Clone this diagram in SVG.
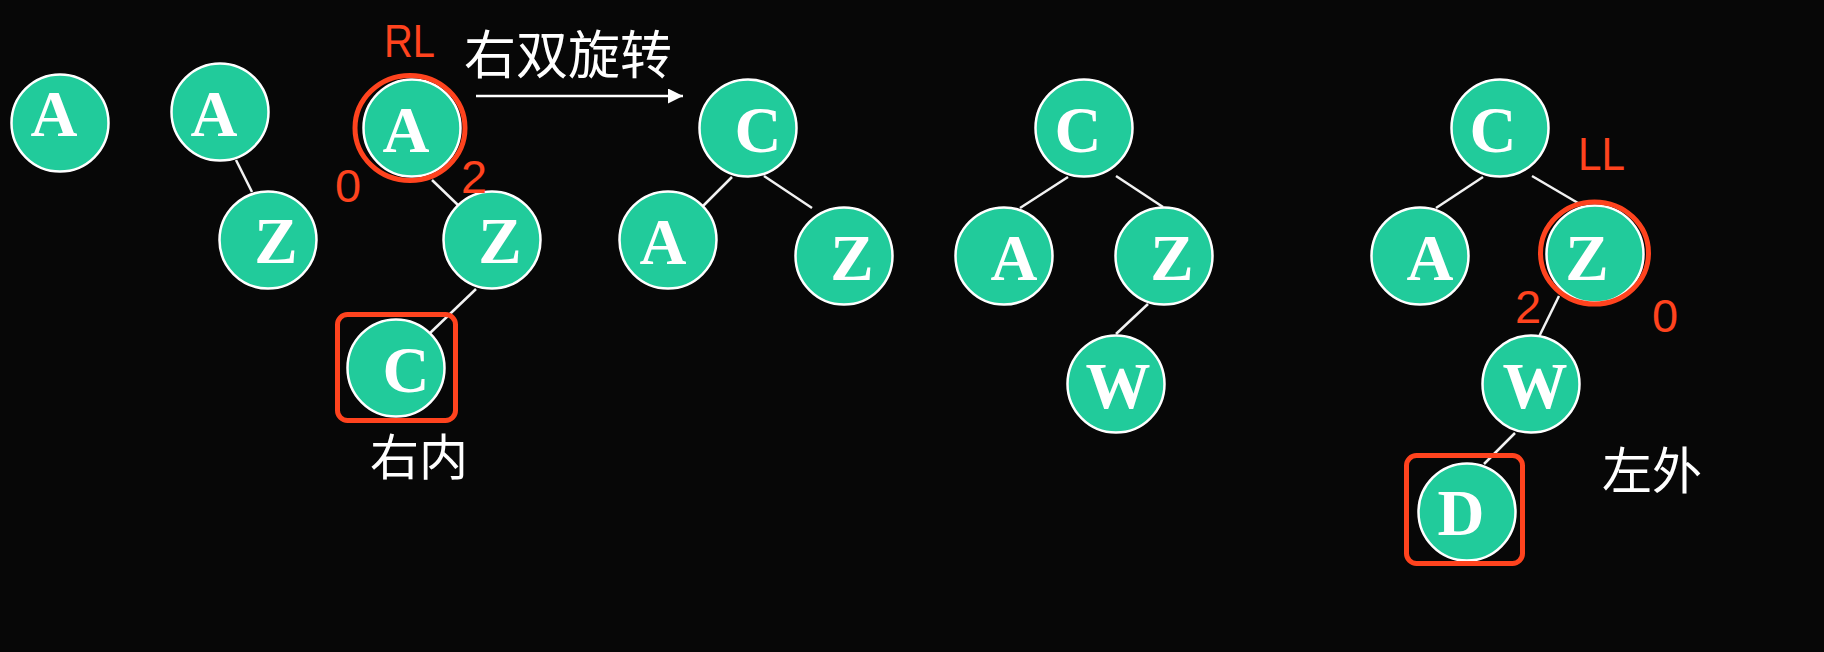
<svg xmlns="http://www.w3.org/2000/svg" width="1824" height="652" viewBox="0 0 1824 652">
<defs>
<style>
.bg{fill:#070707}
.node circle{fill:#21CB9B;stroke:#FFFFFF;stroke-width:2.5}
.node text{font-family:"Liberation Serif","Times New Roman",serif;font-weight:bold;font-size:65px;fill:#FFFFFF;text-anchor:middle}
.edge{stroke:#F2F2F2;stroke-width:2.5;fill:none}
.hl{fill:none;stroke:#FF431E;stroke-width:5}
.red{font-family:"Liberation Sans",Arial,sans-serif;font-size:47px;fill:#FF431E}
.cjk{font-family:"Noto Sans CJK SC",sans-serif;font-weight:400;fill:#FFFFFF}
</style>
<marker id="ah" viewBox="0 0 10 10" refX="10" refY="5" markerWidth="15" markerHeight="15" markerUnits="userSpaceOnUse" orient="auto">
<path d="M0,0 L10,5 L0,10 Z" fill="#FFFFFF"/>
</marker>
</defs>
<rect class="bg" x="0" y="0" width="1824" height="652"/>

<g id="connectors">
<line class="edge" x1="236" y1="160" x2="252" y2="192"/>
<line class="edge" x1="432" y1="180" x2="459" y2="206"/>
<line class="edge" x1="476" y1="289" x2="429" y2="334"/>
<line class="edge" x1="732" y1="177" x2="703" y2="206"/>
<line class="edge" x1="764" y1="176" x2="812" y2="208"/>
<line class="edge" x1="1068" y1="177" x2="1020" y2="208"/>
<line class="edge" x1="1116" y1="176" x2="1163" y2="207"/>
<line class="edge" x1="1148" y1="304" x2="1116" y2="334"/>
<line class="edge" x1="1483" y1="177" x2="1436" y2="208"/>
<line class="edge" x1="1532" y1="176" x2="1578" y2="203"/>
<line class="edge" x1="1559" y1="296" x2="1532" y2="351"/>
<line class="edge" x1="1515" y1="433" x2="1484" y2="464"/>
<line x1="476" y1="96" x2="683" y2="96" stroke="#FFFFFF" stroke-width="2.5" marker-end="url(#ah)"/>
</g>

<g id="tree1">
<g id="n-a1" class="node"><circle cx="60" cy="123" r="48.5"/><text x="54" y="136">A</text></g>
</g>
<g id="tree2">
<g id="n-a2" class="node"><circle cx="220" cy="112" r="48.5"/><text x="214" y="136">A</text></g>
<g id="n-z1" class="node"><circle cx="268" cy="240" r="48.5"/><text x="276" y="263">Z</text></g>
</g>
<g id="tree3">
<g id="n-a3" class="node"><circle cx="412" cy="128" r="48.5"/><text x="406" y="152">A</text></g>
<g id="n-z2" class="node"><circle cx="492" cy="240" r="48.5"/><text x="500" y="263">Z</text></g>
<g id="n-c1" class="node"><circle cx="396" cy="368" r="48.5"/><text x="406" y="392">C</text></g>
<ellipse class="hl" cx="410" cy="128" rx="55" ry="52.5"/>
<rect class="hl" x="337.5" y="314.5" width="118" height="106" rx="10"/>
<text class="red" x="384" y="57" textLength="51" lengthAdjust="spacingAndGlyphs">RL</text>
<text class="red" x="335" y="202">0</text>
<text class="red" x="461" y="193">2</text>
<text class="cjk" x="370" y="475" font-size="49">右内</text>
</g>
<g id="label-rotate">
<text class="cjk" x="464" y="74" font-size="52">右双旋转</text>
</g>
<g id="tree4">
<g id="n-c2" class="node"><circle cx="748" cy="128" r="48.5"/><text x="758" y="152">C</text></g>
<g id="n-a4" class="node"><circle cx="668" cy="240" r="48.5"/><text x="663" y="264">A</text></g>
<g id="n-z3" class="node"><circle cx="844" cy="256" r="48.5"/><text x="852" y="280">Z</text></g>
</g>
<g id="tree5">
<g id="n-c3" class="node"><circle cx="1084" cy="128" r="48.5"/><text x="1078" y="152">C</text></g>
<g id="n-a5" class="node"><circle cx="1004" cy="256" r="48.5"/><text x="1014" y="280">A</text></g>
<g id="n-z4" class="node"><circle cx="1164" cy="256" r="48.5"/><text x="1172" y="280">Z</text></g>
<g id="n-w1" class="node"><circle cx="1116" cy="384" r="48.5"/><text x="1118" y="408">W</text></g>
</g>
<g id="tree6">
<g id="n-c4" class="node"><circle cx="1500" cy="128" r="48.5"/><text x="1493" y="152">C</text></g>
<g id="n-a6" class="node"><circle cx="1420" cy="256" r="48.5"/><text x="1430" y="280">A</text></g>
<g id="n-z5" class="node"><circle cx="1595" cy="254" r="48.5"/><text x="1587" y="280">Z</text></g>
<g id="n-w2" class="node"><circle cx="1531" cy="384" r="48.5"/><text x="1535" y="408">W</text></g>
<g id="n-d" class="node"><circle cx="1467" cy="512" r="48.5"/><text x="1461" y="535">D</text></g>
<ellipse class="hl" cx="1594.5" cy="253" rx="54" ry="51"/>
<rect class="hl" x="1406.5" y="455.5" width="116" height="108" rx="10"/>
<text class="red" x="1578" y="170" textLength="47" lengthAdjust="spacingAndGlyphs">LL</text>
<text class="red" x="1515" y="323">2</text>
<text class="red" x="1652" y="332">0</text>
<text class="cjk" x="1602" y="489" font-size="50">左外</text>
</g>
</svg>
